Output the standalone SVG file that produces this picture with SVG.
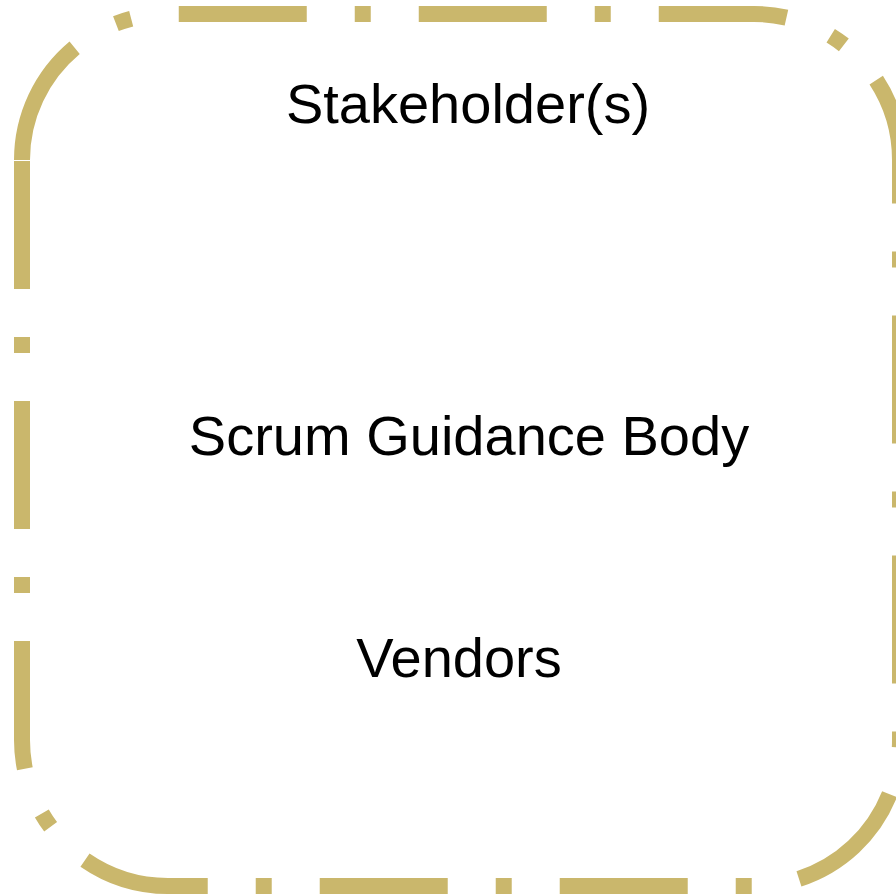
<svg xmlns="http://www.w3.org/2000/svg" width="896" height="894" viewBox="0 0 896 894">
  <style>
    .frame { fill: none; stroke: #CAB76C; stroke-width: 16; stroke-dasharray: 128 48 16 48; stroke-linecap: butt; }
    .label { font-family: "Liberation Sans", Arial, sans-serif; font-size: 56px; fill: #000000; text-anchor: middle; }
  </style>
  <rect width="896" height="894" fill="#FFFFFF"/>
  <g id="frame">
    <path class="frame" d="M22,160 A146,146 0 0 1 168,14 L754,14 A146,146 0 0 1 900,160 L900,740 A146,146 0 0 1 754,886 L168,886 A146,146 0 0 1 22,740 Z"/>
  </g>
  <g id="stakeholders">
    <text class="label" x="468" y="123">Stakeholder(s)</text>
  </g>
  <g id="scrum-guidance-body">
    <text class="label" x="469" y="455">Scrum Guidance Body</text>
  </g>
  <g id="vendors">
    <text class="label" x="459" y="677">Vendors</text>
  </g>
  <g id="connectors"></g>
</svg>
